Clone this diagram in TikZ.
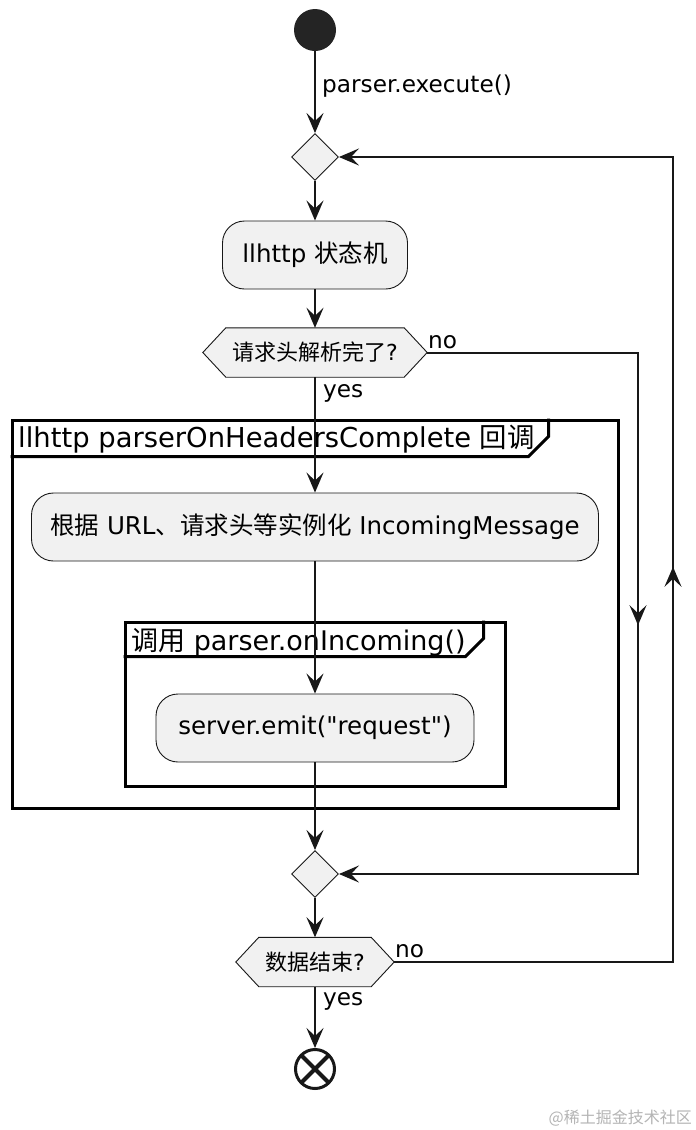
\documentclass[tikz,border=0pt]{standalone}
\usepackage{fontspec}
\newfontfamily\latf{DejaVu Sans}
\newfontfamily\cjkf{Noto Sans CJK SC}
\newcommand\zh[1]{{\cjkf #1}}
\usetikzlibrary{arrows.meta,shapes.geometric,decorations.markings,backgrounds}
\definecolor{boxfill}{HTML}{F1F1F1}
\definecolor{ink}{HTML}{181818}
\definecolor{wm}{HTML}{B4B4B4}
\begin{document}
\begin{tikzpicture}[x=1pt,y=-1pt,
  line/.style={line width=2pt, draw=ink},
  arr/.style={line, -{Stealth[length=20pt,width=17pt,inset=8pt]}},
  midarr/.style={postaction={decorate, decoration={markings,
      mark=at position #1 with {\arrow[line width=2pt,ink]{Stealth[length=20pt,width=17pt,inset=8pt]}}}}},
  act/.style={draw=ink, line width=0.9pt, fill=boxfill, rounded corners=22pt,
      minimum height=68pt, inner sep=0pt, font=\latf\fontsize{24.5}{29}\selectfont},
  hexn/.style={inner sep=0pt, minimum height=49pt, font=\latf\fontsize{22}{26}\selectfont},
  hexdraw/.style={draw=ink, line width=0.9pt, fill=boxfill},
  dec/.style={diamond, draw=ink, line width=0.9pt, fill=boxfill, minimum width=47pt,
      minimum height=47pt, inner sep=0pt},
  lbl/.style={inner sep=0pt, font=\latf\fontsize{23.2}{27}\selectfont},
  frame/.style={draw=black, line width=3pt, inner sep=0pt},
  ftitle/.style={inner sep=0pt, anchor=base west, font=\latf\fontsize{27}{32}\selectfont},
  frameline/.style={draw=black, line width=3pt}
]
\useasboundingbox (0,0) rectangle (696,1130);
\begin{scope}[on background layer]
  \fill[white] (0,0) rectangle (696,1130);
\end{scope}

% frames
\node[frame, minimum width=606pt, minimum height=388pt] (f1) at (315,614) {};
\draw[frameline] (f1.north west) ++(0,38) -- ++(518,0) -- ++(20,-20) -- ++(0,-18);
\node[ftitle, font=\latf\fontsize{27.4}{32}\selectfont] (t1) at (18,447) {llhttp parserOnHeadersComplete \zh{回调}};
\node[frame, minimum width=380pt, minimum height=164pt] (f2) at (315,704) {};
\draw[frameline] (f2.north west) ++(0,36) -- ++(342,0) -- ++(18,-18) -- ++(0,-18);
\node[ftitle] (t2) at (131,650) {\zh{调用} parser.onIncoming()};

% nodes
\node[circle, fill=ink!95, minimum size=42pt, inner sep=0pt] (start) at (315,30) {};
\node[dec] (d1) at (315,157) {};
\node[act, minimum width=185pt] (a1) at (315,255) {llhttp \zh{状态机}};
\node[hexn, minimum width=224pt] (h1) at (315,352.5) {\zh{请求头解析完了}?};
\node[act, minimum width=567pt] (b1) at (315,527) {\zh{根据} URL\zh{、请求头等实例化} IncomingMessage};
\node[act, minimum width=318pt] (c1) at (315,728) {server.emit("request")};
\node[dec] (d2) at (315,874) {};
\node[hexn, minimum width=158pt] (h2) at (315,962) {\zh{数据结束}?};
\node[circle, draw=ink, line width=3pt, fill=white, minimum size=39pt, inner sep=0pt] (end) at (315,1069) {};
\draw[line width=4pt, ink] ([shift={(-13pt,-13pt)}]end.center) -- ([shift={(13pt,13pt)}]end.center);
\draw[line width=4pt, ink] ([shift={(-13pt,13pt)}]end.center) -- ([shift={(13pt,-13pt)}]end.center);

\begin{scope}[on background layer]
\draw[hexdraw] (h1.west) -- ([xshift=23pt]h1.north west) -- ([xshift=-23pt]h1.north east) -- (h1.east)
   -- ([xshift=-23pt]h1.south east) -- ([xshift=23pt]h1.south west) -- cycle;
\draw[hexdraw] (h2.west) -- ([xshift=23pt]h2.north west) -- ([xshift=-23pt]h2.north east) -- (h2.east)
   -- ([xshift=-23pt]h2.south east) -- ([xshift=23pt]h2.south west) -- cycle;
\end{scope}

% connectors
\coordinate (r1) at (638,0);
\coordinate (r2) at (673,0);
\draw[arr] (start) -- (d1);
\draw[arr] (d1) -- (a1);
\draw[arr] (a1) -- (h1);
\draw[arr] (h1) -- (b1);
\draw[arr] (b1) -- (c1);
\draw[arr] (c1) -- (d2);
\draw[arr] (d2) -- (h2);
\draw[arr] (h2) -- (end);
\draw[arr, midarr=483.5pt] (h1.east) -- (h1.east -| r1) -- (r1 |- d2.east) -- (d2.east);
\draw[arr, midarr=674pt] (h2.east) -- (h2.east -| r2) -- (r2 |- d1.east) -- (d1.east);

% labels
\node[lbl, anchor=base west] (l1) at (322,92) {parser.execute()};
\node[lbl, anchor=base west] (l2) at (428,348) {no};
\node[lbl, anchor=base west] (l3) at (323,397) {yes};
\node[lbl, anchor=base west] (l4) at (395,957) {no};
\node[lbl, anchor=base west] (l5) at (323,1005) {yes};

\node[inner sep=0pt, anchor=base east, text=wm, font=\cjkf\fontsize{16}{19}\selectfont] (wmk) at (692,1123) {@稀土掘金技术社区};
\end{tikzpicture}
\end{document}
